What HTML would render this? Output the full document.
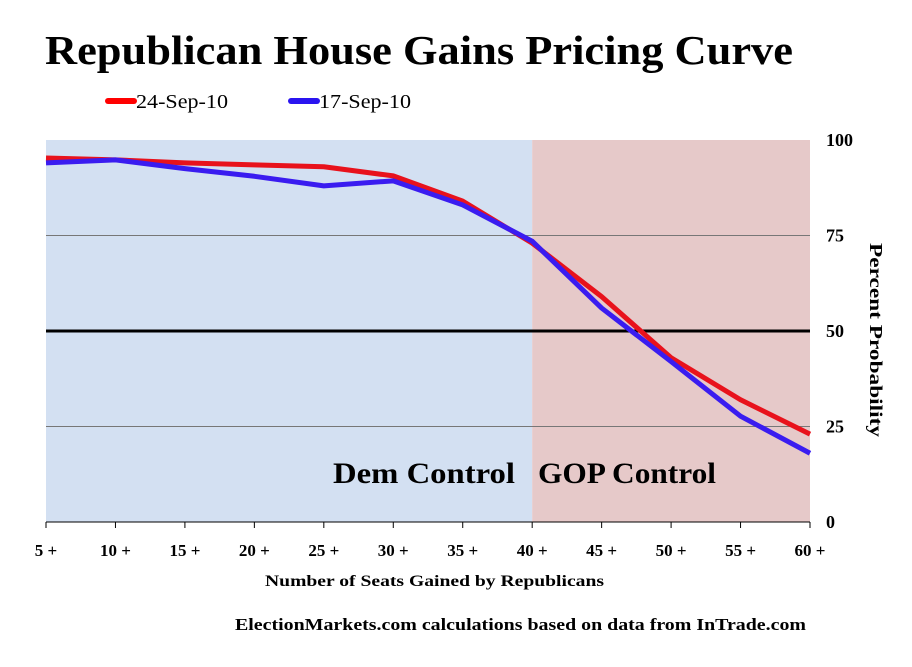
<!DOCTYPE html>
<html><head><meta charset="utf-8"><style>
body{margin:0;background:#fff;width:912px;height:662px;overflow:hidden;font-family:"Liberation Serif",serif}
</style></head><body>
<svg id="c" width="912" height="662" xmlns="http://www.w3.org/2000/svg" font-family="Liberation Serif, serif">
<text x="45" y="64" textLength="748" lengthAdjust="spacingAndGlyphs" font-size="41" font-weight="bold">Republican House Gains Pricing Curve</text>
<g>
<line x1="108" y1="101" x2="134" y2="101" stroke="#f00" stroke-width="6" stroke-linecap="round"/>
<text x="136" y="108" textLength="92" lengthAdjust="spacingAndGlyphs" font-size="20">24-Sep-10</text>
<line x1="291" y1="101" x2="317" y2="101" stroke="#2a14f0" stroke-width="6" stroke-linecap="round"/>
<text x="319" y="108" textLength="92" lengthAdjust="spacingAndGlyphs" font-size="20">17-Sep-10</text>
</g>
<g id="plot"></g>
<text x="870" y="243" textLength="194" lengthAdjust="spacingAndGlyphs" font-size="18" font-weight="bold" transform="rotate(90 870 243)">Percent  Probability</text>
<text x="265" y="586" textLength="339" lengthAdjust="spacingAndGlyphs" font-size="16" font-weight="bold">Number of Seats Gained by Republicans</text>
<text x="235" y="630" textLength="571" lengthAdjust="spacingAndGlyphs" font-size="17" font-weight="bold">ElectionMarkets.com calculations based on data from InTrade.com</text>
</svg>
<script>
const categories=["5 +","10 +","15 +","20 +","25 +","30 +","35 +","40 +","45 +","50 +","55 +","60 +"];
const sep24=[95.3,94.8,94,93.5,93,90.6,84,73,59,43,32,23];
const sep17=[94,94.8,92.5,90.5,88,89.3,83,73.5,56,42,27.7,18];
const yTicks=[0,25,50,75,100];
const X0=46,X1=810,Y0=522,Y1=140;
const xs=i=>X0+i*(X1-X0)/(categories.length-1);
const ys=v=>Y0-(v/100)*(Y0-Y1);
const NS="http://www.w3.org/2000/svg";
const g=document.getElementById('plot');
function mk(t,a){const e=document.createElementNS(NS,t);for(const k in a)e.setAttribute(k,a[k]);g.appendChild(e);return e;}
let r=mk('rect',{x:X0,y:Y1,width:xs(7)-X0,height:Y0-Y1,fill:'#d3e0f2'});


r=mk('rect',{x:xs(7),y:Y1,width:X1-xs(7),height:Y0-Y1,fill:'#e6c9c9'});


yTicks.forEach(v=>{
  if(v>0&&v<100&&v!==50){const l=mk('line',{x1:X0,x2:X1,y1:ys(v),y2:ys(v),stroke:'#777','stroke-width':1});
  
  }
  const t=mk('text',{x:826,y:ys(v)+6,'font-size':18,'font-weight':'bold'});t.textContent=v;
  
  
});
let l=mk('line',{x1:X0,x2:X1,y1:ys(50),y2:ys(50),stroke:'#000','stroke-width':3});


l=mk('line',{x1:X0,x2:X1,y1:Y0,y2:Y0,stroke:'#000','stroke-width':1});


categories.forEach((c,i)=>{
  const tk=mk('line',{x1:xs(i),x2:xs(i),y1:Y0,y2:Y0+6,stroke:'#000'});
  
  
  const t=mk('text',{x:xs(i),y:556,'font-size':17,'font-weight':'bold','text-anchor':'middle'});t.textContent=c;
  
  
});
let t=mk('text',{x:333,y:483,'font-size':30,'font-weight':'bold',textLength:182,lengthAdjust:'spacingAndGlyphs'});t.textContent='Dem Control';


t=mk('text',{x:538,y:483,'font-size':30,'font-weight':'bold',textLength:178,lengthAdjust:'spacingAndGlyphs'});t.textContent='GOP Control';


function line(d,col,name){const p=mk('polyline',{points:d.map((v,i)=>xs(i)+','+ys(v)).join(' '),fill:'none',stroke:col,'stroke-width':5,'stroke-linejoin':'round'});

}
line(sep24,'#e8121c','series-24-sep-10');
line(sep17,'#3a1cf0','series-17-sep-10');
</script>
</body></html>
